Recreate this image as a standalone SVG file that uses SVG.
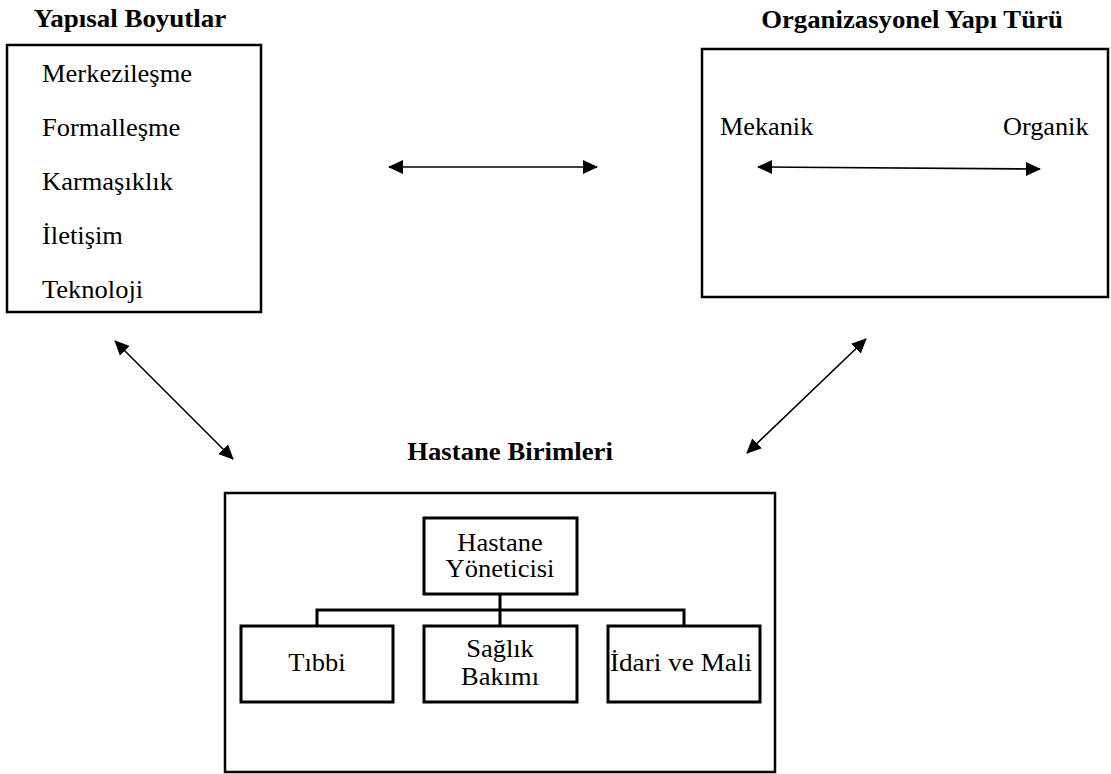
<svg xmlns="http://www.w3.org/2000/svg" width="1111" height="774" viewBox="0 0 1111 774">
<style>
.t{font-family:"Liberation Serif","Times New Roman",serif;font-size:25px;fill:#000}
.b{font-weight:bold}
.c{text-anchor:middle}
.box{fill:#fff;stroke:#000;stroke-width:2.5}
.ibox{fill:#fff;stroke:#000;stroke-width:3}
.arr{stroke:#000;stroke-width:1.6;fill:none;marker-start:url(#ah);marker-end:url(#ah)}
.org{stroke:#000;stroke-width:3;fill:none}
</style>
<defs>
<marker id="ah" markerUnits="userSpaceOnUse" markerWidth="16" markerHeight="15" refX="14" refY="7" orient="auto-start-reverse" viewBox="0 0 16 14">
<path d="M0,0 L15,7 L0,14 Z" fill="#000"/>
</marker>
</defs>
<rect width="1111" height="774" fill="#fff"/>
<g id="yapisal-boyutlar">
<text class="t b c" transform="translate(130 27) scale(1.08 1)">Yapısal Boyutlar</text>
<rect class="box" x="7" y="45" width="254" height="267"/>
<text class="t" transform="translate(42 82) scale(1.06 1)">Merkezileşme</text>
<text class="t" transform="translate(42 136) scale(1.06 1)">Formalleşme</text>
<text class="t" transform="translate(42 190) scale(1.06 1)">Karmaşıklık</text>
<text class="t" transform="translate(42 244) scale(1.06 1)">İletişim</text>
<text class="t" transform="translate(42 298) scale(1.06 1)">Teknoloji</text>
</g>
<g id="organizasyonel-yapi">
<text class="t b c" transform="translate(912 28) scale(1.07 1)">Organizasyonel Yapı Türü</text>
<rect class="box" x="702" y="49" width="406" height="248"/>
<text class="t" transform="translate(720 135) scale(1.05 1)">Mekanik</text>
<text class="t" transform="translate(1003 135) scale(1.05 1)">Organik</text>
</g>
<g id="hastane-birimleri">
<text class="t b c" transform="translate(510 460) scale(1.07 1)">Hastane Birimleri</text>
<rect class="box" x="225" y="493" width="550" height="279"/>
</g>
<g id="yonetici">
<rect class="ibox" x="424" y="518" width="153" height="76"/>
<text class="t c" transform="translate(500 551) scale(1.06 1)">Hastane</text>
<text class="t c" transform="translate(500 577) scale(1.06 1)">Yöneticisi</text>
</g>
<g id="tibbi">
<rect class="ibox" x="241" y="626" width="152" height="76"/>
<text class="t c" transform="translate(317 671) scale(1.06 1)">Tıbbi</text>
</g>
<g id="saglik-bakimi">
<rect class="ibox" x="424" y="626" width="153" height="76"/>
<text class="t c" transform="translate(500 657) scale(1.06 1)">Sağlık</text>
<text class="t c" transform="translate(500 685) scale(1.06 1)">Bakımı</text>
</g>
<g id="idari-mali">
<rect class="ibox" x="608" y="626" width="152" height="76"/>
<text class="t c" transform="translate(681 671) scale(1.09 1)">İdari ve Mali</text>
</g>
<g id="connectors">
<line class="arr" x1="389" y1="167" x2="597" y2="167"/>
<line class="arr" x1="758" y1="167" x2="1040" y2="169"/>
<line class="arr" x1="115" y1="341" x2="233" y2="459"/>
<line class="arr" x1="866" y1="339" x2="747" y2="453"/>
<path class="org" d="M500,594 V626 M317,626 V610 H684 V626"/>
</g>
</svg>
